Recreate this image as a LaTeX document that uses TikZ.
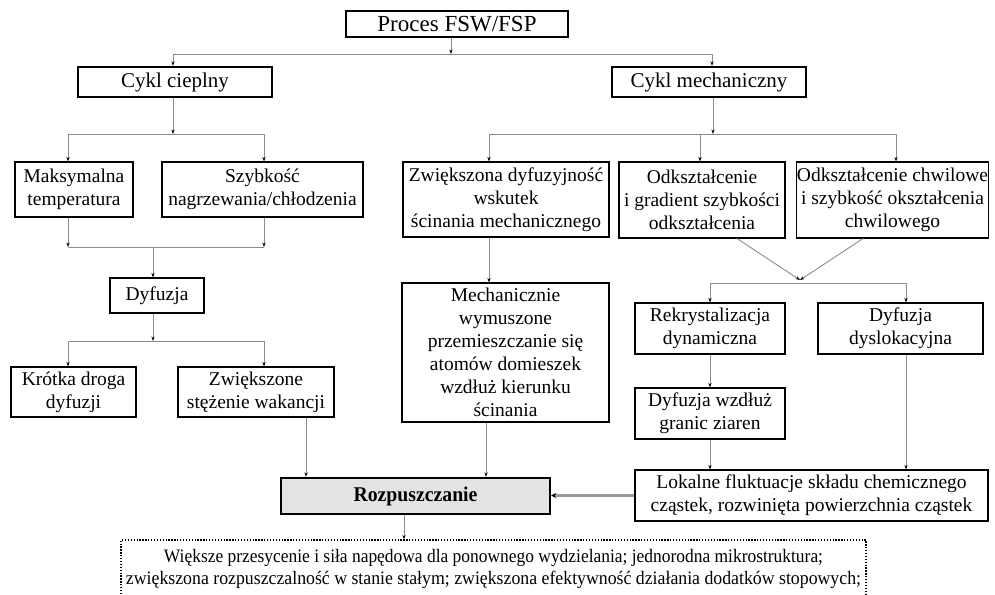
\documentclass[tikz,border=0pt]{standalone}
\usepackage{fontspec}
\setmainfont{Liberation Serif}
\usetikzlibrary{arrows.meta}
\begin{document}
\begin{tikzpicture}[x=1pt,y=-1pt,
  box/.style={draw=black, line width=1.1pt, align=center, inner sep=0pt,
    font=\fontsize{19.5}{23}\selectfont},
  heavybox/.style={box, line width=2.4pt},
  conn/.style={draw=black!45, line width=0.9pt},
  arr/.style={conn, -{Stealth[length=4.5pt,width=3.2pt,color=black]}},
  bigarr/.style={draw=black!40, line width=2.4pt, -{Stealth[length=5pt,width=5pt,color=black]}}]
\clip (0,0) rectangle (995,594);
\fill[white] (0,0) rectangle (995,594);

% nodes
\node[heavybox, minimum width=222, minimum height=26, font=\fontsize{23}{26}\selectfont] (proc) at (457,24) {Proces FSW/FSP};
\node[heavybox, minimum width=194, minimum height=30, font=\fontsize{21}{24}\selectfont] (cc) at (175,82) {Cykl cieplny};
\node[heavybox, minimum width=194, minimum height=30, font=\fontsize{21}{24}\selectfont] (cm) at (709,82) {Cykl mechaniczny};

\node[box, minimum width=118, minimum height=55] (mt) at (74,189.5) {Maksymalna\\temperatura};
\node[box, minimum width=201, minimum height=55] (sz) at (262.5,189.5) {Szybkość\\nagrzewania/chłodzenia};
\node[box, minimum width=94, minimum height=35] (dyf) at (157,295.5) {Dyfuzja};
\node[box, minimum width=125, minimum height=50] (kd) at (73.5,392) {Krótka droga\\dyfuzji};
\node[box, minimum width=156, minimum height=50] (zs) at (256,392) {Zwiększone\\stężenie wakancji};

\node[box, minimum width=206, minimum height=75] (zd) at (506,199.5) {Zwiększona dyfuzyjność\\wskutek\\ścinania mechanicznego};
\node[box, minimum width=207, minimum height=139] (md) at (505.5,352.5) {Mechanicznie\\wymuszone\\przemieszczanie się\\atomów domieszek\\wzdłuż kierunku\\ścinania};

\node[box, minimum width=166, minimum height=76] (od) at (702,200) {Odkształcenie\\i gradient szybkości\\odkształcenia};
\node[box, minimum width=191, minimum height=76] (oc) at (892.5,200) {Odkształcenie chwilowe\\i szybkość okształcenia\\chwilowego};
\node[box, minimum width=150, minimum height=51] (rd) at (710,328.5) {Rekrystalizacja\\dynamiczna};
\node[box, minimum width=165, minimum height=51] (dd) at (900.5,328.5) {Dyfuzja\\dyslokacyjna};
\node[box, minimum width=150, minimum height=51] (dw) at (710,413.5) {Dyfuzja wzdłuż\\granic ziaren};
\node[box, minimum width=353, minimum height=51] (lf) at (811.5,495.5) {Lokalne fluktuacje składu chemicznego\\cząstek, rozwinięta powierzchnia cząstek};

\node[heavybox, fill=black!11, minimum width=269, minimum height=36, font=\fontsize{21}{24}\selectfont\bfseries] (rozp) at (415.5,496) {\resizebox{124pt}{\height}{Rozpuszczanie}};

\node[draw=black, line width=1.3pt, dash pattern=on 1.3pt off 1.6pt, inner sep=0pt, align=center,
  minimum width=745, minimum height=58, font=\fontsize{19}{21.5}\selectfont] (res) at (493.5,569)
  {\resizebox{659pt}{\height}{Większe przesycenie i siła napędowa dla ponownego wydzielania; jednorodna mikrostruktura;}\\
   \resizebox{735pt}{\height}{zwiększona rozpuszczalność w stanie stałym; zwiększona efektywność działania dodatków stopowych;}};

% top level
\coordinate (j0) at (451,54);
\coordinate (hL) at (173,54);
\coordinate (hR) at (712,54);
\draw[arr] (proc.south -| j0) -- (j0);
\draw[conn] (hL) -- (hR);
\draw[arr] (hL) -- (hL |- cc.north);
\draw[arr] (hR) -- (hR |- cm.north);

% thermal cycle
\coordinate (j1) at (173,134);
\coordinate (j1L) at (68,134);
\coordinate (j1R) at (264,134);
\draw[arr] (cc.south -| j1) -- (j1);
\draw[conn] (j1L) -- (j1R);
\draw[arr] (j1L) -- (j1L |- mt.north);
\draw[arr] (j1R) -- (j1R |- sz.north);

\coordinate (j2) at (153,247);
\coordinate (j2L) at (68,247);
\coordinate (j2R) at (264,247);
\draw[arr] (mt.south -| j2L) -- (j2L);
\draw[arr] (sz.south -| j2R) -- (j2R);
\draw[conn] (j2L) -- (j2R);
\draw[arr] (j2) -- (j2 |- dyf.north);

\coordinate (j3) at (153,341);
\coordinate (j3L) at (68,341);
\coordinate (j3R) at (264,341);
\draw[arr] (dyf.south -| j3) -- (j3);
\draw[conn] (j3L) -- (j3R);
\draw[arr] (j3L) -- (j3L |- kd.north);
\draw[arr] (j3R) -- (j3R |- zs.north);

\coordinate (c1) at (306,0);
\draw[arr] (zs.south -| c1) -- (rozp.north -| c1);

% mechanical cycle
\coordinate (j4) at (713,134);
\coordinate (j4L) at (489,134);
\coordinate (j4M) at (700,134);
\coordinate (j4R) at (896,134);
\draw[arr] (cm.south -| j4) -- (j4);
\draw[conn] (j4L) -- (j4R);
\draw[arr] (j4L) -- (j4L |- zd.north);
\draw[arr] (j4M) -- (j4M |- od.north);
\draw[arr] (j4R) -- (j4R |- oc.north);

\coordinate (c2) at (489,0);
\draw[arr] (zd.south -| c2) -- (md.north -| c2);
\coordinate (c3) at (486,0);
\draw[arr] (md.south -| c3) -- (rozp.north -| c3);

\coordinate (conv) at (800,280);
\draw[arr] ([xshift=35pt]od.south) -- (conv);
\draw[arr] ([xshift=-29.5pt]oc.south) -- (conv);

\coordinate (j5L) at (710,283);
\coordinate (j5R) at (906,283);
\draw[conn] (j5L) -- (j5R);
\draw[arr] (j5L) -- (j5L |- rd.north);
\draw[arr] (j5R) -- (j5R |- dd.north);

\draw[arr] (rd.south) -- (dw.north);
\draw[arr] (dw.south) -- (dw.south |- lf.north);
\draw[arr] (dd.south -| j5R) -- (j5R |- lf.north);

\draw[bigarr] (lf.west) -- (lf.west -| rozp.east);

\coordinate (c4) at (404,0);
\draw[arr] (rozp.south -| c4) -- (res.north -| c4);
\end{tikzpicture}
\end{document}
